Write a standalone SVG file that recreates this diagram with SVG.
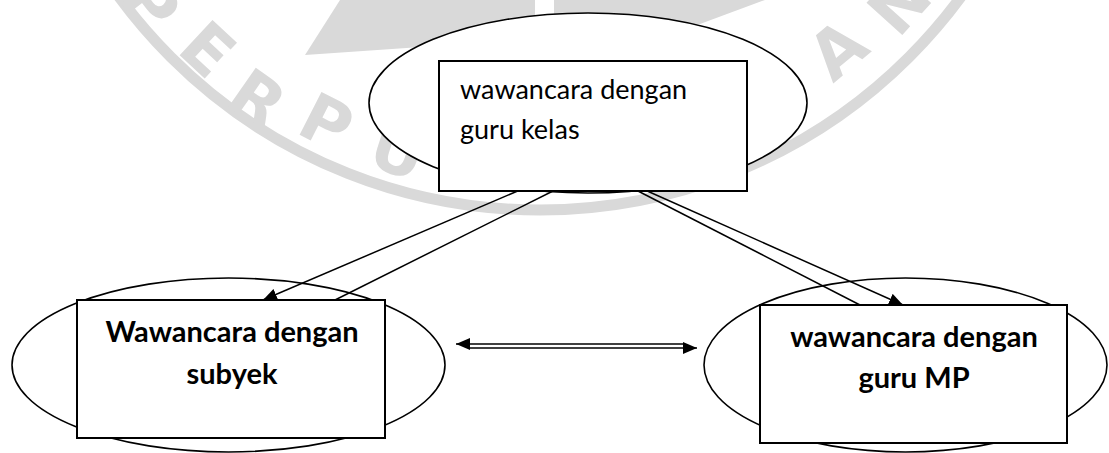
<svg xmlns="http://www.w3.org/2000/svg" width="1109" height="453" viewBox="0 0 1109 453">
  <style>
    .bubble { fill: #ffffff; stroke: #000000; stroke-width: 1.6; }
    .box { fill: #ffffff; stroke: #000000; stroke-width: 2; }
    .link { fill: none; stroke: #000000; stroke-width: 1.5; }
    .plain { font-family: Lato, "Open Sans", sans-serif; font-size: 27px; fill: #000000; }
    .bold { font-family: Lato, "Open Sans", sans-serif; font-size: 29px; font-weight: bold; fill: #000000; text-anchor: middle; }
    .wm { fill: #d9d9d9; }
    .wm-letter { font-family: "DejaVu Sans", sans-serif; font-weight: bold; font-size: 66px; fill: #d9d9d9; text-anchor: middle; dominant-baseline: central; }
  </style>
  <defs>
    <marker id="head" markerUnits="userSpaceOnUse" markerWidth="15" markerHeight="12" refX="14" refY="6" orient="auto">
      <path d="M0,0 L14,6 L0,12 z" fill="#000000"/>
    </marker>
  </defs>

  <rect width="1109" height="453" fill="#ffffff"/>

  <!-- background seal -->
  <g id="seal">
    <circle cx="540" cy="-312" r="522" fill="none" stroke="#d9d9d9" stroke-width="11"/>
    <polygon class="wm" points="305,55 340,0 535,0 535,25 450,45"/>
    <polygon class="wm" points="554,0 765,0 700,24 554,24"/>
    <text class="wm-letter" transform="translate(150,4) rotate(52)">P</text>
    <text class="wm-letter" transform="translate(207,50) rotate(43)">E</text>
    <text class="wm-letter" transform="translate(257,100) rotate(35)">R</text>
    <text class="wm-letter" transform="translate(326,123) rotate(27)">P</text>
    <text class="wm-letter" transform="translate(398,152) rotate(18)">U</text>
    <text class="wm-letter" transform="translate(838,50) rotate(-40)">A</text>
    <text class="wm-letter" transform="translate(900,4) rotate(-48)">N</text>
  </g>

  <!-- node outlines (ellipses behind the connectors) -->
  <ellipse id="guru-kelas-bubble" class="bubble" cx="588" cy="103" rx="219" ry="90"/>
  <ellipse id="subyek-bubble" class="bubble" cx="228.5" cy="365" rx="216.5" ry="87"/>
  <ellipse id="guru-mp-bubble" class="bubble" cx="905.5" cy="365" rx="201.5" ry="87"/>

  <!-- connectors -->
  <g id="connectors">
    <line class="link" x1="520" y1="190" x2="263" y2="300" marker-end="url(#head)"/>
    <line class="link" x1="555" y1="190" x2="335" y2="300"/>
    <line class="link" x1="636" y1="190" x2="860" y2="305"/>
    <line class="link" x1="645" y1="190" x2="903" y2="305" marker-end="url(#head)"/>
    <line class="link" x1="470" y1="348" x2="697" y2="348" marker-end="url(#head)"/>
    <line class="link" x1="683" y1="344" x2="456" y2="344" marker-end="url(#head)"/>
  </g>

  <!-- nodes -->
  <g id="guru-kelas">
    <rect class="box" x="439" y="61" width="308" height="130"/>
    <text class="plain" x="460" y="99">wawancara dengan</text>
    <text class="plain" x="460" y="139">guru kelas</text>
  </g>

  <g id="subyek">
    <rect class="box" x="77" y="300" width="308" height="138"/>
    <text class="bold" x="232" y="342">Wawancara dengan</text>
    <text class="bold" x="232" y="384">subyek</text>
  </g>

  <g id="guru-mp">
    <rect class="box" x="760" y="305" width="307" height="138"/>
    <text class="bold" x="914" y="347">wawancara dengan</text>
    <text class="bold" x="914" y="388">guru MP</text>
  </g>
</svg>
